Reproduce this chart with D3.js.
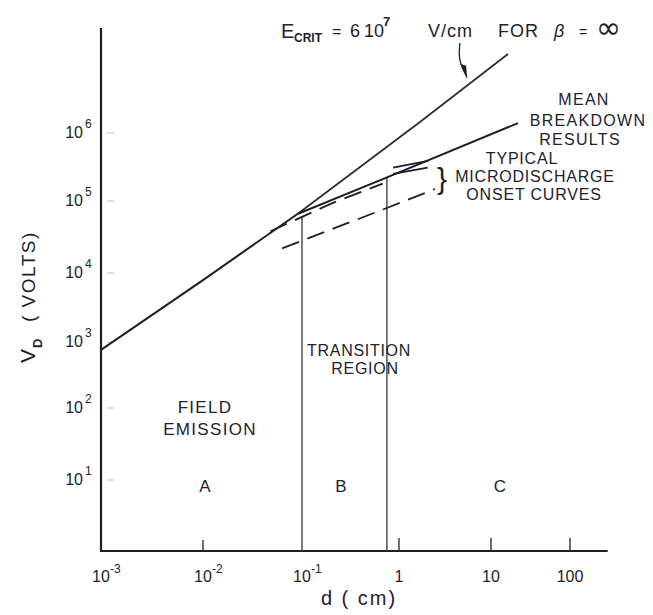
<!DOCTYPE html>
<html>
<head>
<meta charset="utf-8">
<script src="https://cdn.jsdelivr.net/npm/d3@7"></script>
<style>
  html, body { margin: 0; padding: 0; background: #fff; }
  svg { display: block; }
  text { font-family: "Liberation Sans", Arial, sans-serif; fill: #22222e; }
</style>
</head>
<body>
<svg id="chart" width="653" height="615"></svg>
<script>
// ---------------- DATA ----------------
const xTickValues = [1e-3, 1e-2, 1e-1, 1, 10, 100];
const xTickBase   = ["10", "10", "10", "1", "10", "100"];
const xTickExp    = ["-3", "-2", "-1", "", "", ""];
const yTickValues = [10, 100, 1e3, 1e4, 1e5, 1e6];
const yTickBase   = ["10", "10", "10", "10", "10", "10"];
const yTickExp    = ["1", "2", "3", "4", "5", "6"];
const yScaleStops = [1, 10, 100, 1e3, 1e4, 1e5, 1e6];

// curves: [d (cm), V (volts)]
const fieldEmissionCurve = [[1e-3, 760], [1e-2, 7900], [0.09, 66000]];
const eCritLine          = [[0.09, 66000], [1.69, 1.45e6], [16.4, 1.45e7]];
const meanBreakdown      = [[0.09, 66000], [0.68, 2.1e5], [22, 1.4e6]];
const microUpper         = [[0.048, 3.8e4], [0.2, 9.2e4], [0.68, 1.8e5]];
const microUpperA        = [[0.87, 3.1e5], [2.07, 3.9e5]];
const microUpperB        = [[0.87, 2.5e5], [2.05, 3.1e5]];
const microLower         = [[0.063, 2.2e4], [0.75, 8.0e4], [2.46, 1.5e5]];
const regionBounds       = [0.1, 0.75];
const regionBoundTops    = [6.2e4, 2.25e5];
const arrowPath          = [[4.6, 2.1e7], [4.4, 1.18e7], [5.5, 6.5e6]];
const axisExtent         = { xMax: 300, yMax: 3.5e7 };

// ---------------- SCALES ----------------
const svg = d3.select("#chart");
const x = d3.scaleLog().domain(xTickValues).range([101, 203, 302, 399, 491, 570]);
const y = d3.scaleLog().domain(yScaleStops).range([551, 480, 408, 342, 273, 201, 133]);
const x0 = xTickValues[0], y0 = yScaleStops[0];

const line = d3.line().x(d => x(d[0])).y(d => y(d[1]));
const ink = "#1e1e28";

// ---------------- AXES ----------------
svg.append("line")
  .attr("x1", x(x0)).attr("x2", x(x0))
  .attr("y1", y(y0)).attr("y2", y(axisExtent.yMax))
  .attr("stroke", ink).attr("stroke-width", 2.2);
svg.append("line")
  .attr("x1", x(x0) - 1).attr("x2", x(axisExtent.xMax))
  .attr("y1", y(y0)).attr("y2", y(y0))
  .attr("stroke", ink).attr("stroke-width", 2);

// x ticks (upward)
svg.selectAll(".xt").data(xTickValues.slice(1).filter(v => v !== 0.1)).enter()
  .append("line")
  .attr("x1", d => x(d)).attr("x2", d => x(d))
  .attr("y1", y(y0)).attr("y2", d => y(y0) - (d === 1e-2 ? 11 : 13))
  .attr("stroke", "#333").attr("stroke-width", 1.4);

// y ticks (faint, inside)
svg.selectAll(".yt").data(yTickValues).enter()
  .append("line")
  .attr("x1", x(x0) + 6).attr("x2", x(x0) + 13)
  .attr("y1", d => y(d)).attr("y2", d => y(d))
  .attr("stroke", "#c8c8cc").attr("stroke-width", 1.2);

// x tick labels
const xl = svg.selectAll(".xl").data(xTickValues).enter().append("g");
xl.append("text")
  .attr("x", d => x(d)).attr("y", 582)
  .attr("text-anchor", "middle").attr("font-size", 16)
  .text((d, i) => xTickBase[i]);
xl.append("text")
  .attr("x", d => x(d) + 9).attr("y", 573)
  .attr("font-size", 12)
  .text((d, i) => xTickExp[i]);

// y tick labels
const yl = svg.selectAll(".yl").data(yTickValues).enter().append("g");
yl.append("text")
  .attr("x", 83).attr("y", d => y(d) + 5)
  .attr("text-anchor", "end").attr("font-size", 16)
  .text((d, i) => yTickBase[i]);
yl.append("text")
  .attr("x", 85).attr("y", d => y(d) - 5)
  .attr("font-size", 12)
  .text((d, i) => yTickExp[i]);

// ---------------- REGION BOUNDARIES ----------------
svg.selectAll(".rb").data(regionBounds).enter()
  .append("line")
  .attr("x1", d => x(d)).attr("x2", d => x(d))
  .attr("y1", (d, i) => y(regionBoundTops[i])).attr("y2", y(y0))
  .attr("stroke", "#444").attr("stroke-width", 1.4);

// ---------------- CURVES ----------------
svg.append("path").attr("d", line(fieldEmissionCurve))
  .attr("fill", "none").attr("stroke", ink).attr("stroke-width", 2);
svg.append("path").attr("d", line(eCritLine))
  .attr("fill", "none").attr("stroke", "#2a2a3c").attr("stroke-width", 1.7);
svg.append("path").attr("d", line(meanBreakdown))
  .attr("fill", "none").attr("stroke", ink).attr("stroke-width", 2);

[microUpper, microLower].forEach(c => {
  svg.append("path").attr("d", line(c))
    .attr("fill", "none").attr("stroke", ink).attr("stroke-width", 1.8)
    .attr("stroke-dasharray", "18,9");
});
[microUpperA, microUpperB].forEach(c => {
  svg.append("path").attr("d", line(c))
    .attr("fill", "none").attr("stroke", ink).attr("stroke-width", 1.8);
});

// arrow
svg.append("path").attr("d", d3.line().curve(d3.curveBasis).x(d => x(d[0])).y(d => y(d[1]))(arrowPath))
  .attr("fill", "none").attr("stroke", ink).attr("stroke-width", 1.3);
{
  const tip = arrowPath[arrowPath.length - 1];
  const tx = x(tip[0]), ty = y(tip[1]);
  svg.append("path")
    .attr("d", `M${tx},${ty} L${tx - 7},${ty - 14} L${tx - 1},${ty - 12} Z`)
    .attr("fill", ink);
}

// ---------------- TEXT ----------------
const t1 = svg.append("g");
t1.append("text").attr("x", 281).attr("y", 38).attr("font-size", 20).text("E");
t1.append("text").attr("x", 294).attr("y", 42).attr("font-size", 12).attr("font-weight", "bold").text("CRIT");
t1.append("text").attr("x", 332).attr("y", 37).attr("font-size", 16).text("=");
t1.append("text").attr("x", 350).attr("y", 37).attr("font-size", 18).text("6");
t1.append("text").attr("x", 364).attr("y", 37).attr("font-size", 18).text("10");
t1.append("text").attr("x", 383).attr("y", 26).attr("font-size", 13).attr("font-weight", "bold").text("7");
t1.append("text").attr("x", 428).attr("y", 37).attr("font-size", 18).attr("letter-spacing", 1).text("V/cm");
t1.append("text").attr("x", 498).attr("y", 37).attr("font-size", 18).attr("letter-spacing", 1).text("FOR");
t1.append("text").attr("x", 554).attr("y", 37).attr("font-size", 18).attr("font-style", "italic").text("β");
t1.append("text").attr("x", 579).attr("y", 37).attr("font-size", 14).text("=");
t1.append("text").attr("x", 596).attr("y", 38).attr("font-size", 30)
  .style("font-family", "'DejaVu Sans', sans-serif").text("∞");

function block(lines, cx, ys, size, ls) {
  lines.forEach((s, i) => {
    svg.append("text").attr("x", cx[i]).attr("y", ys[i])
      .attr("text-anchor", "middle").attr("font-size", size)
      .attr("letter-spacing", ls).text(s);
  });
}
block(["MEAN", "BREAKDOWN", "RESULTS"], [584, 588, 580], [105, 126, 145], 16, 1.3);
block(["TYPICAL", "MICRODISCHARGE", "ONSET CURVES"], [522, 535, 534], [164, 182, 200], 16, 0.8);
svg.append("text").attr("x", 437).attr("y", 189).attr("font-size", 30).attr("font-weight", "300").text("}");
block(["TRANSITION", "REGION"], [359, 365], [356, 374], 16, 0.7);
block(["FIELD", "EMISSION"], [205, 210], [413, 435], 17, 1.3);
block(["A", "B", "C"], [205, 341, 500], [492, 492, 492], 17, 0);

// axis titles
svg.append("text").attr("x", 359).attr("y", 605).attr("text-anchor", "middle")
  .attr("font-size", 20).attr("letter-spacing", 2).text("d ( cm)");

const yt = svg.append("g").attr("transform", "translate(35,0) rotate(-90)");
yt.append("text").attr("x", -363).attr("y", 0).attr("font-size", 21).text("V");
yt.append("text").attr("x", -348).attr("y", 7).attr("font-size", 13).attr("font-weight", "bold").text("D");
yt.append("text").attr("x", -322).attr("y", 0).attr("font-size", 19).attr("letter-spacing", 1.5).text("( VOLTS)");
</script>
</body>
</html>
